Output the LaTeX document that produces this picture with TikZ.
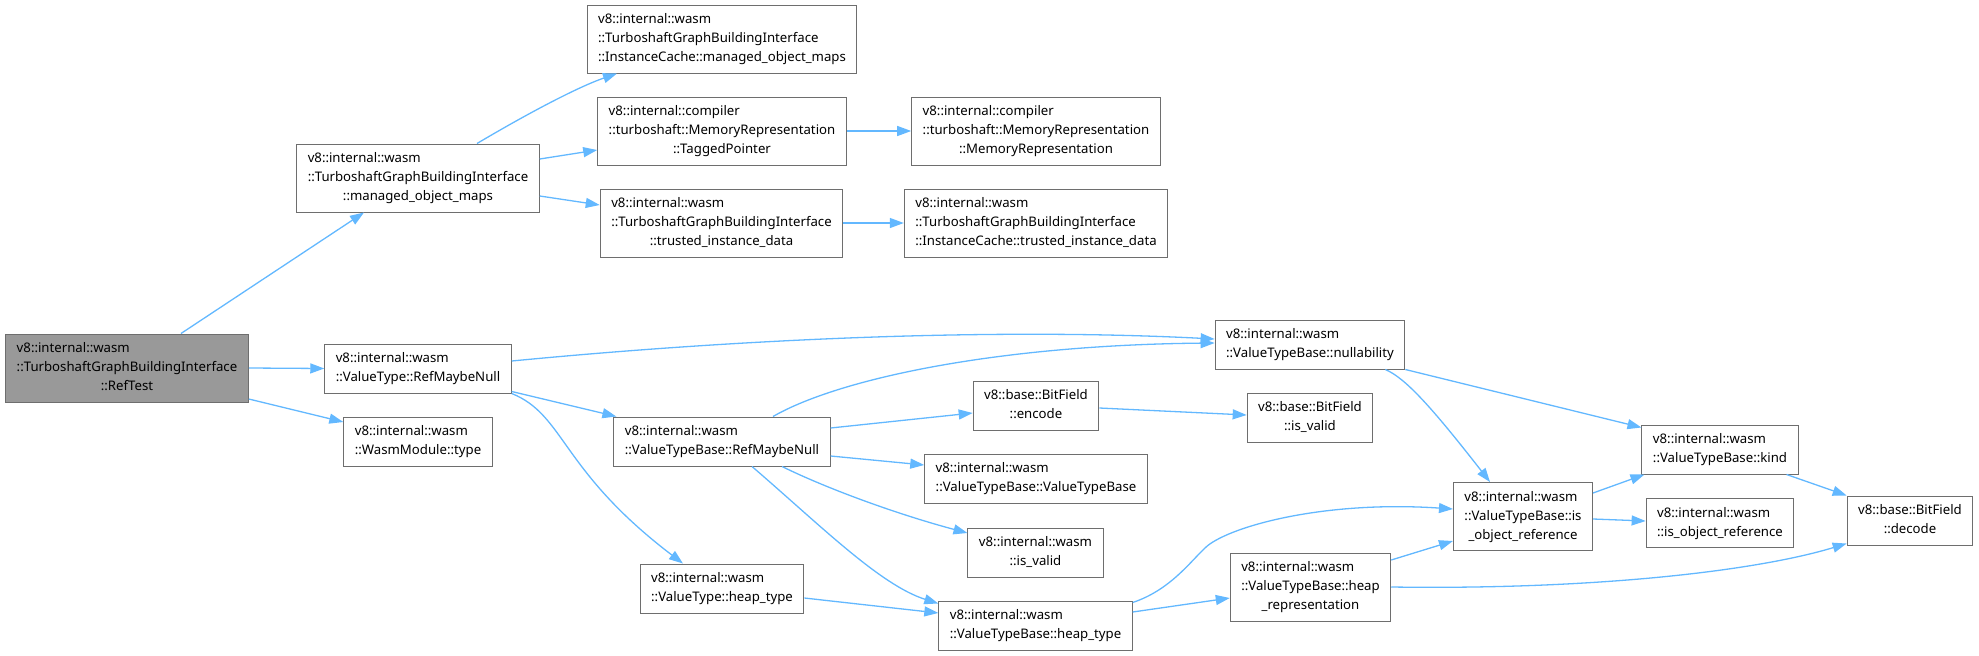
\documentclass[tikz,border=0pt]{standalone}
\usepackage{fontspec}
\setmainfont{Noto Sans}
\usepackage{tikz}
\usetikzlibrary{arrows.meta,positioning}
\definecolor{edgeblue}{HTML}{63B8FF}
\definecolor{boxgray}{HTML}{6E6E6E}
\definecolor{rootgray}{HTML}{999999}
\newcommand{\fnlabel}[2]{\begin{tabular}{@{}l@{}}#1\\\multicolumn{1}{@{}c@{}}{#2}\end{tabular}}

\begin{document}
\begin{tikzpicture}[x=1pt,y=-1pt,
  fn/.style={draw=boxgray,line width=1pt,fill=white,inner xsep=11pt,inner ysep=5.5pt,
    font=\fontsize{13.2}{19}\selectfont},
  root/.style={fn,fill=rootgray},
  call/.style={draw=edgeblue,line width=1.3pt,-{Triangle[length=14pt,width=10pt]}}]
\useasboundingbox (0,0) rectangle (1979,656);
\node[root] (reftest) at (127,368) {\fnlabel{v8::internal::wasm\\::TurboshaftGraphBuildingInterface}{::RefTest}};
\node[fn] (tgbimom) at (418,178) {\fnlabel{v8::internal::wasm\\::TurboshaftGraphBuildingInterface}{::managed\_object\_maps}};
\node[fn] (icmom) at (722,39) {\fnlabel{v8::internal::wasm\\::TurboshaftGraphBuildingInterface}{::InstanceCache::managed\_object\_maps}};
\node[fn] (tagged) at (722,131) {\fnlabel{v8::internal::compiler\\::turboshaft::MemoryRepresentation}{::TaggedPointer}};
\node[fn] (tgbitid) at (721.5,223) {\fnlabel{v8::internal::wasm\\::TurboshaftGraphBuildingInterface}{::trusted\_instance\_data}};
\node[fn] (memrep) at (1036,131) {\fnlabel{v8::internal::compiler\\::turboshaft::MemoryRepresentation}{::MemoryRepresentation}};
\node[fn] (ictid) at (1036,223) {\fnlabel{v8::internal::wasm\\::TurboshaftGraphBuildingInterface}{::InstanceCache::trusted\_instance\_data}};
\node[fn] (vtrmn) at (418,368.5) {\fnlabel{v8::internal::wasm}{::ValueType::RefMaybeNull}};
\node[fn] (wmtype) at (418,441.5) {\fnlabel{v8::internal::wasm}{::WasmModule::type}};
\node[fn] (vtbrmn) at (722,441.5) {\fnlabel{v8::internal::wasm}{::ValueTypeBase::RefMaybeNull}};
\node[fn] (vtheap) at (722,588.5) {\fnlabel{v8::internal::wasm}{::ValueType::heap\_type}};
\node[fn] (nullab) at (1310,344.5) {\fnlabel{v8::internal::wasm}{::ValueTypeBase::nullability}};
\node[fn] (encode) at (1036,405.5) {\fnlabel{v8::base::BitField}{::encode}};
\node[fn] (bfvalid) at (1310,417.5) {\fnlabel{v8::base::BitField}{::is\_valid}};
\node[fn] (vtbvtb) at (1036,478.5) {\fnlabel{v8::internal::wasm}{::ValueTypeBase::ValueTypeBase}};
\node[fn] (wvalid) at (1035.5,552.5) {\fnlabel{v8::internal::wasm}{::is\_valid}};
\node[fn] (vtbheap) at (1035.5,625.5) {\fnlabel{v8::internal::wasm}{::ValueTypeBase::heap\_type}};
\node[fn] (heaprep) at (1310.5,587) {\fnlabel{v8::internal::wasm\\::ValueTypeBase::heap}{\_representation}};
\node[fn] (isobj) at (1523,516.5) {\fnlabel{v8::internal::wasm\\::ValueTypeBase::is}{\_object\_reference}};
\node[fn] (kind) at (1720,449.5) {\fnlabel{v8::internal::wasm}{::ValueTypeBase::kind}};
\node[fn] (wisobj) at (1720,523) {\fnlabel{v8::internal::wasm}{::is\_object\_reference}};
\node[fn] (decode) at (1910,520.5) {\fnlabel{v8::base::BitField}{::decode}};
\draw[call] ([xshift=54pt]reftest.north) -- ([xshift=-54pt]tgbimom.south);
\draw[call] (reftest.east) -- (vtrmn.west);
\draw[call] ([yshift=-31pt]reftest.east) -- ([yshift=19.5pt]wmtype.west);
\draw[call] ([xshift=59pt]tgbimom.north) .. controls (520,118) and (575,88) .. ([xshift=-105pt]icmom.south);
\draw[call] ([yshift=19pt]tgbimom.east) -- ([yshift=-19pt]tagged.west);
\draw[call] ([yshift=-18pt]tgbimom.east) -- ([yshift=18pt]tgbitid.west);
\draw[call] (tagged.east) -- (memrep.west);
\draw[call] (tgbitid.east) -- (ictid.west);
\draw[call] ([yshift=7.5pt]vtrmn.east) .. controls (750,338) and (1000,328) .. ([yshift=5.5pt]nullab.west);
\draw[call] ([xshift=51pt]vtbrmn.north) .. controls (840,378) and (1000,345) .. ([yshift=1.5pt]nullab.west);
\draw[call] ([yshift=2pt]vtrmn.south east) -- ([xshift=3pt]vtbrmn.north west);
\draw[call] (vtrmn.south east) .. controls (565,415) and (560,470) .. ([xshift=-39pt]vtheap.north);
\draw[call] ([yshift=13.5pt]vtbrmn.east) -- ([yshift=-7.5pt]encode.west);
\draw[call] ([yshift=-14.5pt]vtbrmn.east) -- ([yshift=13.5pt]vtbvtb.west);
\draw[call] ([xshift=60pt]vtbrmn.south) .. controls (830,490) and (900,515) .. ([yshift=19.5pt]wvalid.west);
\draw[call] ([xshift=30pt]vtbrmn.south) .. controls (820,525) and (880,585) .. ([yshift=-3pt]vtbheap.north west);
\draw[call] ([yshift=-2.5pt]encode.east) -- ([yshift=2.5pt]bfvalid.west);
\draw[call] ([yshift=-9.5pt]vtheap.east) -- ([yshift=12.5pt]vtbheap.west);
\draw[call] ([yshift=-2pt]vtbheap.north east) .. controls (1170,590) and (1190,562) .. (1205,548)
  .. controls (1225,528) and (1320,500) .. ([yshift=7.5pt]isobj.west);
\draw[call] ([yshift=13.5pt]vtbheap.east) -- ([yshift=-11pt]heaprep.west);
\draw[call] ([yshift=27pt]heaprep.east) -- ([yshift=-24.5pt]isobj.west);
\draw[call] (heaprep.east) .. controls (1600,590) and (1760,570) .. ([yshift=2pt]decode.south west);
\draw[call] (nullab.south east) -- ([yshift=-3pt]kind.north west);
\draw[call] ([xshift=-20pt]nullab.south east) .. controls (1405,378) and (1430,405) .. ([xshift=-33pt]isobj.north);
\draw[call] ([yshift=23.5pt]isobj.east) -- ([xshift=3pt]kind.south west);
\draw[call] ([yshift=-2.5pt]isobj.east) -- ([yshift=2pt]wisobj.west);
\draw[call] ([xshift=-12pt]kind.south east) -- (decode.north west);
\end{tikzpicture}
\end{document}
